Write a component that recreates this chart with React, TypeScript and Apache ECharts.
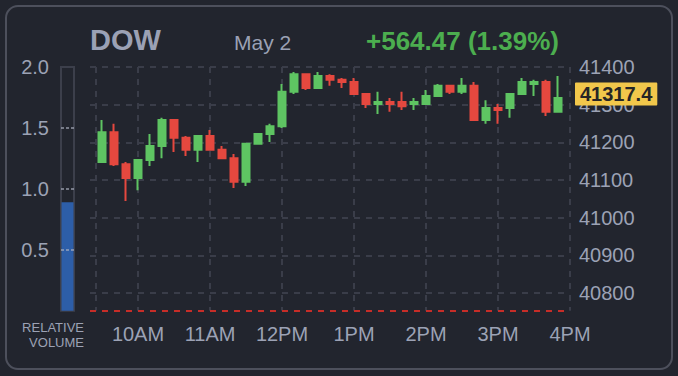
import React, { useEffect, useRef } from 'react';
import * as echarts from 'echarts';

// ---- data ----
const symbol = 'DOW';
const dateLabel = 'May 2';
const netChange = 564.47;
const netChangePct = 1.39;
const prevClose = 40752.93;
const lastPrice = 41317.4;

const times = [
  '09:30', '09:40', '09:50', '10:00', '10:10', '10:20', '10:30', '10:40', '10:50',
  '11:00', '11:10', '11:20', '11:30', '11:40', '11:50',
  '12:00', '12:10', '12:20', '12:30', '12:40', '12:50',
  '13:00', '13:10', '13:20', '13:30', '13:40', '13:50',
  '14:00', '14:10', '14:20', '14:30', '14:40', '14:50',
  '15:00', '15:10', '15:20', '15:30', '15:40', '15:50',
];
const opens = [
  41148, 41227, 41142, 41105, 41153, 41190, 41259, 41212, 41180,
  41217, 41180, 41158, 41095, 41196, 41222,
  41243, 41334, 41381, 41344, 41376, 41366,
  41360, 41328, 41302, 41307, 41307, 41302,
  41302, 41323, 41350, 41334, 41350, 41259,
  41291, 41291, 41328, 41355, 41360, 41281,
];
const closes = [
  41227, 41142, 41105, 41153, 41190, 41259, 41212, 41180, 41217,
  41180, 41158, 41095, 41196, 41222, 41243,
  41334, 41381, 41344, 41376, 41366, 41360,
  41328, 41302, 41307, 41302, 41296, 41307,
  41323, 41350, 41334, 41350, 41259, 41291,
  41286, 41328, 41360, 41360, 41281, 41317.4,
];
const lows = [
  41148, 41137, 41044, 41073, 41137, 41158, 41174, 41164, 41148,
  41180, 41158, 41079, 41084, 41196, 41201,
  41238, 41328, 41339, 41344, 41350, 41344,
  41328, 41291, 41275, 41281, 41286, 41286,
  41302, 41323, 41328, 41328, 41259, 41249,
  41249, 41265, 41328, 41323, 41270, 41281,
];
const highs = [
  41259, 41249, 41148, 41153, 41222, 41265, 41259, 41217, 41217,
  41233, 41190, 41169, 41196, 41222, 41249,
  41355, 41387, 41381, 41387, 41381, 41371,
  41371, 41328, 41334, 41318, 41334, 41318,
  41339, 41355, 41350, 41371, 41360, 41312,
  41302, 41328, 41371, 41366, 41366, 41376,
];

const axisStartTime = '09:20';
const axisEndTime = '16:00';
const sessionEdgeTime = '09:25';
const hourTimes = ['10:00', '11:00', '12:00', '13:00', '14:00', '15:00', '16:00'];
const hourLabels = ['10AM', '11AM', '12PM', '1PM', '2PM', '3PM', '4PM'];
const priceTicks = [40800, 40900, 41000, 41100, 41200, 41300, 41400];
const priceMax = 41400;

const relativeVolume = [0.89];
const volumeMax = 2;
const volumeGuides = [0.5, 1.0, 1.5];

// ---- helpers ----
const toMin = (t: string) => {
  const [h, m] = t.split(':').map(Number);
  return h * 60 + m;
};

const FONT = "'Liberation Sans', Arial, Helvetica, sans-serif";
const LABEL = '#9ca2b5';
const GRID = '#3a3d49';
const UP = '#5ec462';
const DOWN = '#e5483f';

export default function App() {
  const ref = useRef<HTMLDivElement>(null);

  useEffect(() => {
    if (!ref.current) return;
    const chart = echarts.init(ref.current, undefined, { renderer: 'svg' });

    const candleData = times.map((t, i) => [toMin(t), opens[i], closes[i], lows[i], highs[i]]);
    const hourValues = hourTimes.map(toMin);
    const xTickValues = [toMin(sessionEdgeTime), ...hourValues];

    chart.setOption({
      animation: false,
      backgroundColor: 'transparent',
      textStyle: { fontFamily: FONT },
      graphic: [
        {
          type: 'rect',
          shape: { x: 6, y: 6, width: 666, height: 363, r: 12 },
          style: { fill: 'none', stroke: '#4d505c', lineWidth: 2 },
          silent: true,
        },
        {
          type: 'text',
          x: 90,
          y: 40,
          style: {
            text: symbol,
            fill: '#9ba1b5',
            font: `bold 29px ${FONT}`,
            verticalAlign: 'middle',
          },
        },
        {
          type: 'text',
          x: 234,
          y: 42,
          style: {
            text: dateLabel,
            fill: '#9ba1b5',
            font: `21px ${FONT}`,
            verticalAlign: 'middle',
          },
        },
        {
          type: 'text',
          x: 366,
          y: 41,
          style: {
            text: `+${netChange.toFixed(2)} (${netChangePct.toFixed(2)}%)`,
            fill: '#4cae4f',
            font: `bold 26px ${FONT}`,
            verticalAlign: 'middle',
          },
        },
        {
          type: 'text',
          x: 84,
          y: 327,
          style: {
            text: 'RELATIVE',
            fill: LABEL,
            font: `13px ${FONT}`,
            align: 'right',
            verticalAlign: 'middle',
          },
        },
        {
          type: 'text',
          x: 84,
          y: 342,
          style: {
            text: 'VOLUME',
            fill: LABEL,
            font: `13px ${FONT}`,
            align: 'right',
            verticalAlign: 'middle',
          },
        },
      ],
      grid: [
        { left: 90, top: 67, width: 480, height: 243.7 },
        {
          left: 61,
          top: 67,
          width: 13,
          height: 243.7,
          show: true,
          borderColor: '#3c3f4b',
          borderWidth: 2,
          backgroundColor: 'transparent',
        },
      ],
      xAxis: [
        {
          type: 'value',
          gridIndex: 0,
          min: toMin(axisStartTime),
          max: toMin(axisEndTime),
          axisLine: { show: false },
          axisTick: { show: false, customValues: xTickValues },
          axisLabel: {
            customValues: hourValues,
            formatter: (v: number) => hourLabels[hourValues.indexOf(v)] ?? '',
            color: LABEL,
            fontSize: 20,
            fontFamily: FONT,
            margin: 13,
          },
          splitLine: {
            show: true,
            lineStyle: { color: GRID, width: 2, type: [6, 6] },
          },
        },
        {
          type: 'category',
          gridIndex: 1,
          data: ['RV'],
          show: false,
        },
      ],
      yAxis: [
        {
          type: 'value',
          gridIndex: 0,
          position: 'right',
          min: prevClose,
          max: priceMax,
          axisLine: { show: false },
          axisTick: { show: false, customValues: priceTicks },
          axisLabel: {
            customValues: priceTicks,
            color: LABEL,
            fontSize: 20,
            fontFamily: FONT,
            margin: 9,
            formatter: (v: number) => String(v),
          },
          splitLine: {
            show: true,
            lineStyle: { color: GRID, width: 2, type: [6, 6] },
          },
        },
        {
          type: 'value',
          gridIndex: 1,
          position: 'left',
          min: 0,
          max: volumeMax,
          interval: 0.5,
          axisLine: { show: false },
          axisTick: { show: false },
          splitLine: { show: false },
          axisLabel: {
            color: LABEL,
            fontSize: 20,
            fontFamily: FONT,
            margin: 12,
            formatter: (v: number) => (v === 0 ? '' : v.toFixed(1)),
          },
        },
      ],
      series: [
        {
          type: 'candlestick',
          xAxisIndex: 0,
          yAxisIndex: 0,
          layout: 'horizontal',
          data: candleData,
          encode: { x: 0, y: [1, 2, 3, 4] },
          barWidth: 8,
          itemStyle: {
            color: UP,
            color0: DOWN,
            borderColor: UP,
            borderColor0: DOWN,
            borderWidth: 2,
          },
          markLine: {
            silent: true,
            symbol: ['none', 'none'],
            animation: false,
            data: [
              {
                yAxis: prevClose,
                lineStyle: { color: '#c62d28', width: 2, type: [6, 6] },
                label: { show: false },
              },
              {
                yAxis: lastPrice,
                lineStyle: { color: 'rgba(0,0,0,0)', width: 0 },
                label: {
                  show: true,
                  position: 'end',
                  distance: 5,
                  offset: [0, -4],
                  formatter: () => lastPrice.toFixed(1),
                  backgroundColor: '#f1c74b',
                  color: '#262626',
                  opacity: 1,
                  fontWeight: 'bold',
                  fontSize: 20,
                  fontFamily: FONT,
                  padding: [2, 5, 1, 5],
                  borderRadius: 1,
                },
              },
            ],
          },
        },
        {
          type: 'bar',
          xAxisIndex: 1,
          yAxisIndex: 1,
          data: relativeVolume,
          barWidth: 12,
          itemStyle: { color: '#2d5ea8' },
          markLine: {
            silent: true,
            symbol: ['none', 'none'],
            animation: false,
            label: { show: false },
            lineStyle: { color: 'rgba(175,180,195,0.6)', width: 2, type: [3, 2] },
            data: volumeGuides.map((v) => ({ yAxis: v })),
          },
        },
      ],
    });

    return () => chart.dispose();
  }, []);

  return (
    <div
      ref={ref}
      style={{
        position: 'absolute',
        left: 0,
        top: 0,
        width: 678,
        height: 376,
        background: '#22252e',
      }}
    />
  );
}
